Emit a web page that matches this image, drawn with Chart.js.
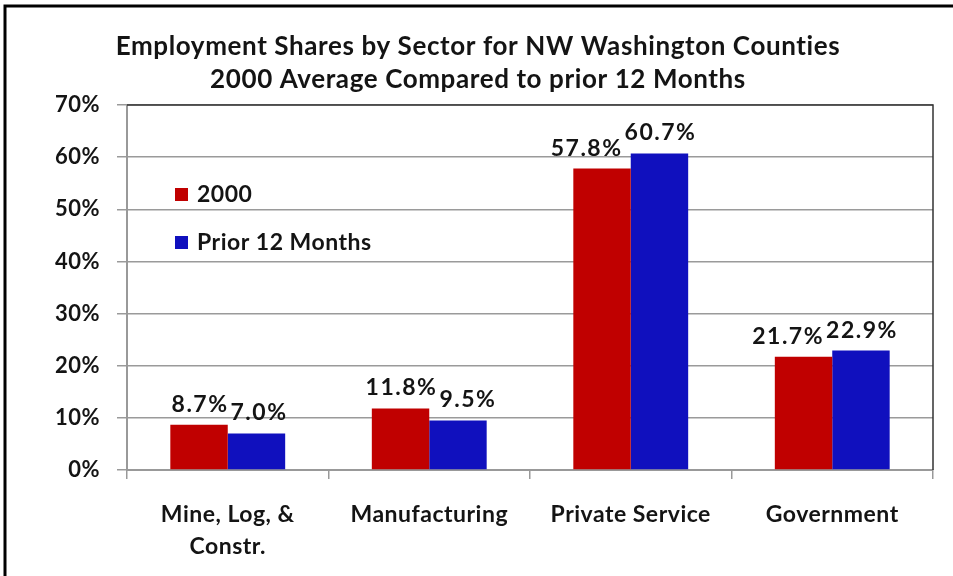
<!DOCTYPE html>
<html>
<head>
<meta charset="utf-8">
<script src="https://cdn.jsdelivr.net/npm/chart.js@4/dist/chart.umd.min.js"></script>
<style>
html,body{margin:0;padding:0;background:#fff;}
#wrap{position:relative;width:953px;height:576px;}
canvas{display:block;}
</style>
</head>
<body>
<div id="wrap"><canvas id="c" width="953" height="576"></canvas></div>
<script>
const categories = [["Mine, Log, &", "Constr."], "Manufacturing", "Private Service", "Government"];
const series2000 = [8.7, 11.8, 57.8, 21.7];
const seriesPrior = [7.0, 9.5, 60.7, 22.9];
const seriesNames = ["2000", "Prior 12 Months"];
const titleLines = ["Employment Shares by Sector for NW Washington Counties", "2000 Average Compared to prior 12 Months"];
const yTicks = [0, 10, 20, 30, 40, 50, 60, 70];

const FONT = "Lato, 'Noto Sans', sans-serif";
const TXT = "#141414";

const framePlugin = {
  id: 'frame',
  beforeDraw(chart) {
    const ctx = chart.ctx;
    ctx.fillStyle = '#fff';
    ctx.fillRect(0, 0, chart.width, chart.height);
    ctx.save();
    ctx.strokeStyle = '#000';
    ctx.lineWidth = 3;
    ctx.beginPath();
    ctx.moveTo(5, chart.height + 2);
    ctx.lineTo(5, 6);
    ctx.lineTo(chart.width + 2, 6);
    ctx.stroke();
    ctx.restore();
    ctx.letterSpacing = '0.5px';
  },
  afterDatasetsDraw(chart) {
    const ctx = chart.ctx;
    const a = chart.chartArea;
    ctx.save();
    ctx.strokeStyle = '#333';
    ctx.lineWidth = 1.5;
    ctx.beginPath();
    ctx.moveTo(a.left, a.top);
    ctx.lineTo(a.right, a.top);
    ctx.lineTo(a.right, a.bottom);
    ctx.stroke();
    // title
    ctx.letterSpacing = '0.6px';
    ctx.fillStyle = TXT;
    ctx.textAlign = 'center';
    ctx.textBaseline = 'middle';
    ctx.font = "bold 26px " + FONT;
    ctx.fillText(titleLines[0], 478, 47);
    ctx.fillText(titleLines[1], 478, 80);
    // legend
    ctx.letterSpacing = '0.5px';
    const items = chart.data.datasets;
    items.forEach((ds, i) => {
      const y = 195 + i * 48;
      ctx.fillStyle = ds.backgroundColor;
      ctx.fillRect(175, y - 7, 13, 13);
      ctx.fillStyle = TXT;
      ctx.textAlign = 'left';
      ctx.font = "bold 23px " + FONT;
      ctx.fillText(ds.label, 197, y);
    });
    // data labels with simple collision avoidance
    ctx.letterSpacing = '1.5px';
    ctx.font = "bold 23px " + FONT;
    ctx.textAlign = 'center';
    ctx.textBaseline = 'bottom';
    ctx.fillStyle = TXT;
    const m0 = chart.getDatasetMeta(0), m1 = chart.getDatasetMeta(1);
    m0.data.forEach((b0, i) => {
      const b1 = m1.data[i];
      const t0 = items[0].data[i].toFixed(1) + '%';
      const t1 = items[1].data[i].toFixed(1) + '%';
      let x0 = b0.x + 1, x1 = b1.x + 1;
      const y0 = b0.y - 9, y1 = b1.y - 9;
      const w0 = ctx.measureText(t0).width, w1 = ctx.measureText(t1).width;
      const overlapX = (x0 + w0 / 2) - (x1 - w1 / 2) + 2;
      const overlapY = Math.abs(y0 - y1) < 20;
      if (overlapX > 0 && overlapY) {
        if (y0 > y1) x0 -= overlapX; else x1 += overlapX;
      }
      ctx.fillText(t0, x0, y0);
      ctx.fillText(t1, x1, y1);
    });
    ctx.restore();
  }
};

new Chart(document.getElementById('c'), {
  type: 'bar',
  data: {
    labels: categories,
    datasets: [
      { label: seriesNames[0], data: series2000, backgroundColor: '#C00000', borderWidth: 0 },
      { label: seriesNames[1], data: seriesPrior, backgroundColor: '#1010BE', borderWidth: 0 }
    ]
  },
  options: {
    responsive: false,
    animation: false,
    devicePixelRatio: 1,
    layout: { padding: { top: 105, right: 20, left: 0, bottom: 0 } },
    categoryPercentage: 0.57,
    barPercentage: 1.0,
    plugins: {
      legend: { display: false },
      title: { display: false },
      tooltip: { enabled: false }
    },
    scales: {
      x: {
        grid: { display: true, drawOnChartArea: false, offset: true, color: '#999', lineWidth: 1.5, tickLength: 9 },
        border: { display: true, color: '#999', width: 2 },
        ticks: { color: TXT, font: { family: FONT, size: 23, weight: 'bold', lineHeight: 1.4 }, padding: 19, maxRotation: 0, autoSkip: false },
        afterFit(scale) { scale.height = 106; }
      },
      y: {
        min: 0, max: 70,
        afterBuildTicks(scale) { scale.ticks = yTicks.map(v => ({ value: v })); },
        grid: { color: '#9a9a9a', lineWidth: 1.5, tickLength: 10 },
        border: { display: true, color: '#999', width: 2 },
        ticks: { color: TXT, font: { family: FONT, size: 22, weight: 'bold' }, padding: 17, callback: v => v + '%' },
        afterFit(scale) { scale.width = 127; }
      }
    }
  },
  plugins: [framePlugin]
});
</script>
</body>
</html>
